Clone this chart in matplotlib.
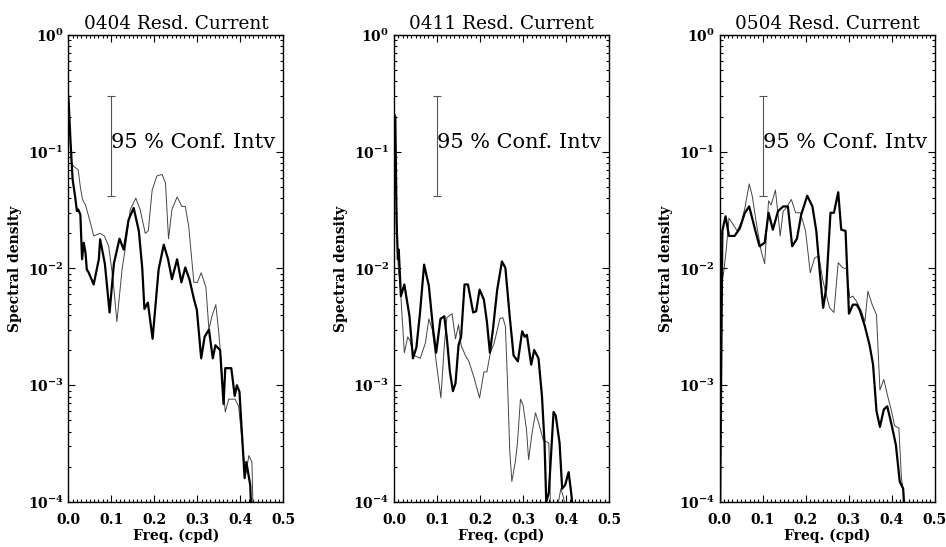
import matplotlib
matplotlib.use("Agg")
import matplotlib.pyplot as plt
from matplotlib.ticker import MultipleLocator, LogLocator, NullFormatter
import numpy as np

plt.rcParams['font.family'] = ['DejaVu Serif']
plt.rcParams['mathtext.fontset'] = 'dejavuserif'
plt.rcParams['mathtext.default'] = 'bf'

titles = ["0404 Resd. Current", "0411 Resd. Current", "0504 Resd. Current"]
conf_label = "95 % Conf. Intv"
conf_x = 0.1
conf_low = 0.042
conf_high = 0.30
xticks = [0.0, 0.1, 0.2, 0.3, 0.4, 0.5]
xtick_labels = ["0.0", "0.1", "0.2", "0.3", "0.4", "0.5"]

# Panel 1 (0404)
f1_thick = [0.000, 0.001, 0.005, 0.010, 0.016, 0.020, 0.023, 0.028, 0.032, 0.036, 0.040, 0.043,
            0.047, 0.059, 0.071, 0.074, 0.085, 0.096, 0.106, 0.119, 0.129, 0.140, 0.152, 0.164,
            0.172, 0.177, 0.185, 0.196, 0.210, 0.222, 0.232, 0.241, 0.253, 0.263, 0.272, 0.282,
            0.292, 0.299, 0.309, 0.317, 0.327, 0.336, 0.342, 0.353, 0.361, 0.365, 0.379, 0.387,
            0.392, 0.398, 0.410, 0.414, 0.423, 0.428]
s1_thick = [0.30, 0.26, 0.126, 0.058, 0.041, 0.031, 0.032, 0.029, 0.012, 0.0166, 0.0136, 0.0098,
            0.0093, 0.0073, 0.012, 0.0178, 0.011, 0.0042, 0.011, 0.018, 0.0145, 0.026, 0.033, 0.021,
            0.010, 0.0045, 0.0051, 0.0025, 0.0098, 0.016, 0.012, 0.0081, 0.0120, 0.0076, 0.0102, 0.0080,
            0.0055, 0.0044, 0.0017, 0.0026, 0.0030, 0.0017, 0.0022, 0.0020, 0.00069, 0.0014, 0.0014, 0.00081,
            0.0010, 0.00088, 0.00016, 0.00022, 0.00014, 0.00005]
f1_thin = [0.000, 0.001, 0.007, 0.0125, 0.023, 0.028, 0.033, 0.040, 0.051, 0.059, 0.074, 0.084,
           0.094, 0.104, 0.113, 0.125, 0.132, 0.144, 0.157, 0.167, 0.179, 0.186, 0.195, 0.206,
           0.218, 0.226, 0.233, 0.241, 0.253, 0.264, 0.272, 0.280, 0.292, 0.300, 0.309, 0.320,
           0.327, 0.334, 0.343, 0.350, 0.358, 0.365, 0.373, 0.388, 0.396, 0.412, 0.420, 0.427, 0.431]
s1_thin = [0.25, 0.23, 0.081, 0.075, 0.070, 0.050, 0.039, 0.035, 0.025, 0.019, 0.020, 0.019,
           0.0155, 0.008, 0.0035, 0.0098, 0.0145, 0.032, 0.040, 0.032, 0.020, 0.021, 0.047, 0.062,
           0.064, 0.054, 0.018, 0.032, 0.041, 0.034, 0.034, 0.023, 0.0076, 0.0076, 0.0092, 0.0069,
           0.0030, 0.0039, 0.0049, 0.0028, 0.0012, 0.00059, 0.00076, 0.00076, 0.00066, 0.00017, 0.00025, 0.00022, 0.00005]

# Panel 2 (0411)
f2_thick = [0.000, 0.003, 0.006, 0.009, 0.011, 0.016, 0.024, 0.036, 0.044, 0.052, 0.060, 0.070,
            0.081, 0.091, 0.098, 0.108, 0.117, 0.123, 0.130, 0.137, 0.143, 0.150, 0.156, 0.164,
            0.172, 0.184, 0.191, 0.199, 0.209, 0.216, 0.223, 0.230, 0.240, 0.251, 0.259, 0.269,
            0.278, 0.288, 0.298, 0.304, 0.309, 0.319, 0.326, 0.336, 0.344, 0.350, 0.354, 0.360,
            0.371, 0.376, 0.385, 0.391, 0.398, 0.406, 0.412, 0.420]
s2_thick = [0.21, 0.20, 0.025, 0.012, 0.0145, 0.0058, 0.0073, 0.0039, 0.0017, 0.0021, 0.0040, 0.0108,
            0.0071, 0.0030, 0.0019, 0.0037, 0.0039, 0.0025, 0.0013, 0.00089, 0.00104, 0.0022, 0.0026, 0.0073,
            0.0073, 0.0042, 0.0043, 0.0066, 0.0054, 0.0035, 0.0019, 0.0030, 0.0066, 0.0115, 0.0101, 0.0039,
            0.0018, 0.0016, 0.0029, 0.0026, 0.0027, 0.0015, 0.0020, 0.0017, 0.00081, 0.00032, 0.00010, 0.00012,
            0.00059, 0.00055, 0.00032, 0.00013, 0.00014, 0.00018, 0.00012, 0.00006]
f2_thin = [0.000, 0.003, 0.007, 0.010, 0.015, 0.024, 0.032, 0.037, 0.047, 0.061, 0.073, 0.081,
           0.089, 0.098, 0.109, 0.117, 0.123, 0.135, 0.143, 0.150, 0.156, 0.166, 0.174, 0.185,
           0.199, 0.209, 0.216, 0.224, 0.233, 0.246, 0.253, 0.259, 0.264, 0.269, 0.274, 0.282,
           0.287, 0.294, 0.300, 0.308, 0.313, 0.321, 0.329, 0.336, 0.347, 0.360, 0.364, 0.380,
           0.388, 0.394, 0.401]
s2_thin = [0.15, 0.14, 0.02, 0.010, 0.0066, 0.0019, 0.0026, 0.0024, 0.0018, 0.0017, 0.0023, 0.0037,
           0.0030, 0.0016, 0.00078, 0.0022, 0.0038, 0.0041, 0.0025, 0.0033, 0.0022, 0.0018, 0.0016, 0.0012,
           0.00078, 0.0013, 0.0013, 0.0019, 0.0023, 0.0037, 0.0038, 0.0032, 0.00105, 0.00028, 0.00015, 0.00022,
           0.00032, 0.00076, 0.00068, 0.00042, 0.00023, 0.00039, 0.00058, 0.00048, 0.00034, 0.00032, 0.00009, 0.00009,
           0.00013, 0.00011, 0.00008]

# Panel 3 (0504)
f3_thick = [0.000, 0.0065, 0.014, 0.022, 0.035, 0.047, 0.059, 0.069, 0.082, 0.093, 0.105, 0.114,
            0.124, 0.136, 0.148, 0.159, 0.169, 0.180, 0.190, 0.204, 0.216, 0.225, 0.233, 0.241,
            0.248, 0.258, 0.266, 0.276, 0.283, 0.293, 0.301, 0.310, 0.319, 0.326, 0.338, 0.349,
            0.357, 0.365, 0.373, 0.382, 0.390, 0.400, 0.410, 0.419, 0.427, 0.432]
s3_thick = [0.00002, 0.021, 0.028, 0.019, 0.019, 0.022, 0.030, 0.034, 0.022, 0.0155, 0.0166, 0.030,
            0.0215, 0.031, 0.034, 0.034, 0.0155, 0.018, 0.029, 0.042, 0.034, 0.021, 0.0095, 0.0046,
            0.0068, 0.030, 0.030, 0.045, 0.0215, 0.021, 0.0041, 0.0049, 0.0049, 0.0044, 0.0032, 0.0022,
            0.0015, 0.00060, 0.00044, 0.00062, 0.00066, 0.00046, 0.00031, 0.00015, 0.00013, 0.00006]
f3_thin = [0.000, 0.004, 0.010, 0.016, 0.022, 0.031, 0.041, 0.051, 0.059, 0.069, 0.076, 0.086,
           0.097, 0.105, 0.114, 0.120, 0.130, 0.136, 0.141, 0.148, 0.155, 0.167, 0.177, 0.188,
           0.200, 0.211, 0.221, 0.231, 0.240, 0.248, 0.256, 0.266, 0.276, 0.287, 0.295, 0.303,
           0.310, 0.319, 0.330, 0.338, 0.345, 0.355, 0.365, 0.373, 0.382, 0.392, 0.400, 0.407,
           0.417, 0.423, 0.428, 0.434]
s3_thin = [0.00002, 0.0068, 0.0095, 0.015, 0.027, 0.024, 0.021, 0.025, 0.033, 0.053, 0.042, 0.024,
           0.014, 0.011, 0.038, 0.035, 0.047, 0.029, 0.019, 0.031, 0.033, 0.039, 0.030, 0.030,
           0.021, 0.0092, 0.0123, 0.0128, 0.0080, 0.0060, 0.0046, 0.0042, 0.0112, 0.0101, 0.0100, 0.0056,
           0.0058, 0.0052, 0.0043, 0.0035, 0.0064, 0.0049, 0.0040, 0.00091, 0.00112, 0.00078, 0.00060, 0.00045,
           0.00043, 0.00016, 0.00012, 0.00006]

panels = [
    (f1_thick, s1_thick, f1_thin, s1_thin),
    (f2_thick, s2_thick, f2_thin, s2_thin),
    (f3_thick, s3_thick, f3_thin, s3_thin),
]
lefts = [0.0722, 0.4165, 0.7606]

fig = plt.figure(figsize=(9.46, 5.47), dpi=100)
for i, (fk, sk, ft, st) in enumerate(panels):
    ax = fig.add_axes([lefts[i], 0.0823, 0.2273, 0.8537])
    ax.set_yscale('log')
    ax.plot(ft, st, color='#444444', lw=0.7)
    ax.plot(fk, sk, color='black', lw=1.6)
    mid = np.sqrt(conf_low * conf_high)
    ax.errorbar([conf_x], [mid], yerr=[[mid - conf_low], [conf_high - mid]],
                fmt='none', ecolor='#555555', elinewidth=0.8, capsize=3, capthick=0.8)
    ax.text(conf_x, 0.1, conf_label, fontsize=15, ha='left', va='bottom')
    ax.set_xlim(0, 0.5)
    ax.set_ylim(1e-4, 1)
    ax.set_xticks(xticks)
    ax.set_xticklabels(xtick_labels, fontweight='bold', fontsize=10)
    ax.xaxis.set_minor_locator(MultipleLocator(0.01))
    ax.yaxis.set_major_locator(LogLocator(base=10, numticks=10))
    ax.yaxis.set_minor_locator(LogLocator(base=10, subs=np.arange(2, 10), numticks=10))
    ax.yaxis.set_minor_formatter(NullFormatter())
    ax.tick_params(which='both', direction='in', top=True, right=True, width=0.8)
    ax.tick_params(which='major', length=5, labelsize=10)
    ax.tick_params(which='minor', length=2.5)
    ax.tick_params(axis='x', pad=8)
    for lab in ax.get_yticklabels():
        lab.set_fontweight('bold')
    for sp in ax.spines.values():
        sp.set_linewidth(1.0)
    ax.set_title(titles[i], fontsize=13.3, pad=4)
    ax.set_xlabel("Freq. (cpd)", fontweight='bold', fontsize=10, labelpad=1)
    ax.set_ylabel("Spectral density", fontweight='bold', fontsize=10, labelpad=4)

fig.savefig("out.png", dpi=100)
